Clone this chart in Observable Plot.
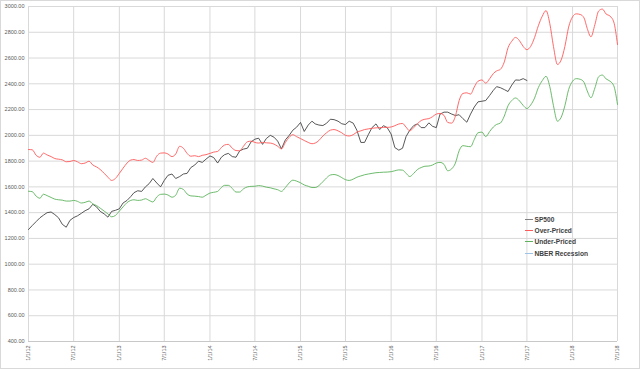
<!DOCTYPE html>
<html><head><meta charset="utf-8">
<script src="https://cdn.jsdelivr.net/npm/d3@7"></script>
<script src="https://cdn.jsdelivr.net/npm/@observablehq/plot@0.6"></script>
<style>
html,body{margin:0;padding:0;background:#fff;}
#wrap{position:relative;width:640px;height:369px;}
#wrap svg{display:block;outline:1px solid #d9d9d9;outline-offset:-1px;}
#legend{position:absolute;left:525px;top:213.6px;font:bold 6.6px "Liberation Sans",Arial,sans-serif;color:#404040;}
.item{display:flex;align-items:center;height:11.3px;white-space:nowrap;}
.sw{display:inline-block;width:8px;height:1px;margin-right:1.5px;}
.tx{color:#404040;}
</style></head><body><div id="wrap"></div>
<script>
// x tick labels (every 6 months)
const xTickLabels = ["1/1/12","7/1/12","1/1/13","7/1/13","1/1/14","7/1/14","1/1/15","7/1/15","1/1/16","7/1/16","1/1/17","7/1/17","1/1/18","7/1/18"];
const yTicks = [400,600,800,1000,1200,1400,1600,1800,2000,2200,2400,2600,2800,3000];
const seriesNames = ["SP500","Over-Priced","Under-Priced","NBER Recession"];
const seriesColors = ["#3a3a3a","#ff5959","#5cb35c","#9dc3e6"];

// semi-monthly values (1st and 16th of each month) starting 1/1/12
const spValues = [
1269,1300,1331,1360,1380,1400,1405,1385,1360,1310,1287,1340,1362,1375,1395,1415,1430,1465,1445,1410,1390,1365,1410,1418,
1430,1475,1495,1525,1555,1570,1565,1600,1625,1665,1630,1600,1650,1690,1700,1665,1680,1700,1705,1750,1770,1800,1790,1815,
1840,1828,1785,1830,1850,1860,1835,1830,1880,1893,1900,1950,1970,1978,1930,1975,2000,1986,1955,1895,1965,1999,2040,2063,
2100,2030,2080,2110,2089,2080,2076,2094,2125,2122,2110,2090,2084,2110,2095,2040,1945,1945,2005,2060,2089,2045,2075,2060,
2010,1905,1885,1900,1990,2040,2076,2089,2060,2060,2097,2070,2060,2165,2180,2180,2165,2154,2160,2130,2102,2165,2220,2260,
2265,2270,2310,2350,2378,2370,2355,2340,2390,2430,2428,2440,2426];
const overValues = [
1890,1888,1845,1830,1862,1848,1835,1820,1815,1810,1795,1797,1805,1795,1780,1785,1799,1770,1755,1735,1705,1675,1650,1665,
1705,1745,1785,1808,1812,1805,1808,1822,1805,1790,1840,1862,1864,1855,1835,1855,1915,1900,1860,1838,1842,1835,1845,1850,
1860,1870,1875,1905,1925,1930,1900,1882,1880,1915,1950,1955,1945,1940,1945,1942,1940,1932,1915,1895,1945,1985,2005,1990,
1975,1960,1945,1935,1940,1960,1995,2020,2040,2045,2035,2020,2000,1995,2005,2025,2035,2045,2050,2055,2058,2060,2062,2062,
2065,2075,2088,2092,2064,2035,2060,2090,2115,2125,2130,2145,2165,2170,2155,2100,2095,2150,2270,2325,2330,2320,2375,2420,
2430,2405,2440,2480,2500,2512,2570,2680,2730,2760,2735,2690,2665,2690,2760,2850,2925,2968,2870,2690,2550,2585,2690,2840,
2920,2943,2938,2912,2830,2765,2860,2965,2980,2942,2925,2880,2705];
const underValues = [
1566,1563,1528,1512,1543,1532,1518,1505,1500,1497,1490,1490,1495,1488,1475,1480,1490,1468,1455,1435,1412,1390,1368,1378,
1412,1445,1478,1495,1500,1495,1498,1508,1495,1483,1522,1542,1544,1537,1520,1535,1590,1580,1545,1530,1528,1525,1520,1535,
1552,1558,1565,1595,1612,1612,1588,1560,1560,1585,1600,1604,1605,1610,1606,1598,1593,1585,1578,1565,1595,1630,1652,1645,
1632,1615,1605,1595,1595,1610,1640,1670,1692,1696,1688,1672,1656,1650,1660,1675,1685,1694,1700,1705,1710,1712,1714,1715,
1718,1725,1732,1730,1706,1680,1705,1735,1750,1760,1762,1770,1785,1790,1775,1725,1740,1785,1880,1920,1915,1912,1968,2020,
2025,1990,2030,2065,2085,2095,2150,2230,2270,2290,2268,2232,2208,2235,2290,2370,2425,2458,2380,2230,2110,2140,2230,2355,
2420,2440,2435,2412,2345,2292,2368,2455,2468,2438,2420,2385,2240];

const halfMonthDate = h => new Date(Date.UTC(2012, Math.floor(h/2), h % 2 ? 16 : 1));
const parseLabel = s => { const [m,d,y] = s.split("/").map(Number); return new Date(Date.UTC(2000+y, m-1, d)); };
const tickDates = xTickLabels.map(parseLabel);
const labelByTime = new Map(tickDates.map((d,i)=>[+d, xTickLabels[i]]));
const toRows = vals => vals.map((v,h)=>({date: halfMonthDate(h), value: v}));
const sp = toRows(spValues), over = toRows(overValues), under = toRows(underValues);

const chart = Plot.plot({
  width: 640, height: 369,
  marginLeft: 28, marginRight: 23, marginTop: 6, marginBottom: 28,
  style: {fontFamily: "'Liberation Sans', Arial, sans-serif", fontSize: "5.5px", color: "#595959", background: "#ffffff"},
  x: {type: "utc", domain: [tickDates[0], tickDates[tickDates.length-1]], label: null},
  y: {domain: [400, 3000], label: null},
  marks: [
    Plot.gridY(yTicks, {stroke: "#d9d9d9", strokeOpacity: 1}),
    Plot.gridX(tickDates, {stroke: "#d9d9d9", strokeOpacity: 1}),
    Plot.ruleY([400], {stroke: "#c8c8c8"}),
    Plot.axisY(yTicks, {tickFormat: d => d.toFixed(2), tickSize: 0, tickPadding: 4, fill: "#595959"}),
    Plot.axisX(tickDates, {tickFormat: d => labelByTime.get(+d), tickRotate: -90, tickSize: 0, tickPadding: 4, fill: "#595959"}),
    Plot.line(sp, {x: "date", y: "value", stroke: seriesColors[0], strokeWidth: 0.85}),
    Plot.line(over, {x: "date", y: "value", stroke: seriesColors[1], strokeWidth: 0.9, curve: "monotone-x"}),
    Plot.line(under, {x: "date", y: "value", stroke: seriesColors[2], strokeWidth: 0.9, curve: "monotone-x"})
  ]
});
const wrap = document.getElementById("wrap");
wrap.appendChild(chart);
const legend = document.createElement("div");
legend.id = "legend";
seriesNames.forEach((name, i) => {
  const it = document.createElement("div"); it.className = "item";
  const sw = document.createElement("span"); sw.className = "sw"; sw.style.background = i === 0 ? "#808080" : seriesColors[i];
  const tx = document.createElement("span"); tx.className = "tx"; tx.textContent = name;
  it.appendChild(sw); it.appendChild(tx); legend.appendChild(it);
});
wrap.appendChild(legend);
</script>
</body></html>
